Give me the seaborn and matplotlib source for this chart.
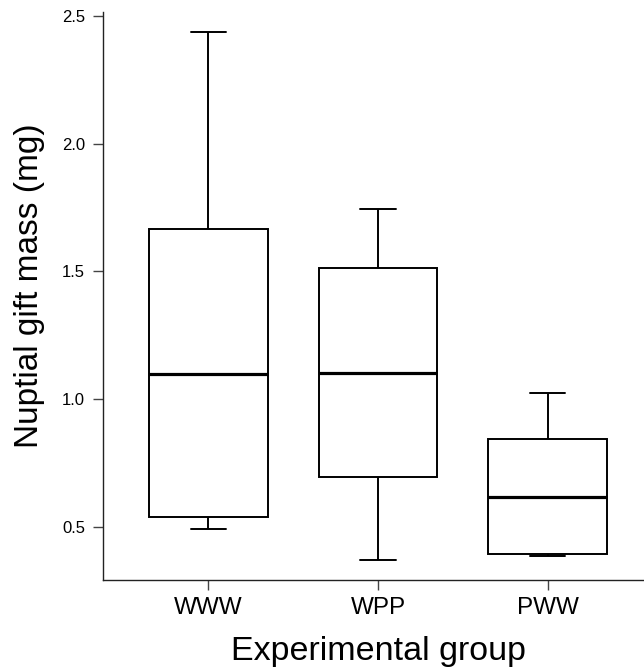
import pandas as pd
import seaborn as sns
import matplotlib.pyplot as plt

# Five-number summaries (min, Q1, median, Q3, max)
groups = ["WWW", "WPP", "PWW"]
www_mass = [0.491, 0.537, 1.099, 1.664, 2.436]
wpp_mass = [0.370, 0.695, 1.103, 1.513, 1.745]
pww_mass = [0.385, 0.392, 0.617, 0.845, 1.025]
y_ticks = [0.5, 1.0, 1.5, 2.0, 2.5]

data = pd.DataFrame({
    "group": ["WWW"] * len(www_mass) + ["WPP"] * len(wpp_mass) + ["PWW"] * len(pww_mass),
    "mass": www_mass + wpp_mass + pww_mass,
})

sns.set_style("ticks")
plt.rcParams["font.family"] = ["Liberation Sans", "DejaVu Sans"]
plt.rcParams["text.color"] = "black"
plt.rcParams["axes.labelcolor"] = "black"
plt.rcParams["xtick.labelcolor"] = "black"
plt.rcParams["ytick.labelcolor"] = "black"

fig = plt.figure(figsize=(6.44, 6.67), dpi=100)
ax = fig.add_axes([103 / 644, 87 / 667, 541 / 644, 568 / 667])

sns.boxplot(
    data=data, x="group", y="mass", order=groups, ax=ax,
    color="white", linecolor="black", linewidth=1.4, width=0.7,
    whis=3.0, capwidths=0.21,
    medianprops={"linewidth": 2.3, "color": "black"},
)

# Axes look like base R: bty="l", ticks outside
ax.set_xlim(-0.622, 2.569)
ax.set_ylim(0.291, 2.515)
ax.set_yticks(y_ticks)
ax.set_yticklabels([f"{t:.1f}" for t in y_ticks])
for side in ["top", "right"]:
    ax.spines[side].set_visible(False)
for side in ["left", "bottom"]:
    ax.spines[side].set_linewidth(1.0)
    ax.spines[side].set_color("#222222")

ax.tick_params(axis="y", length=7, width=1.0, color="#444444", labelsize=12, pad=6)
ax.tick_params(axis="x", length=7.5, width=1.0, color="#444444", labelsize=17.5, pad=5)

ax.set_xlabel("Experimental group", fontsize=24.5, labelpad=12)
ax.set_ylabel("Nuptial gift mass (mg)", fontsize=24, labelpad=12)
ax.xaxis.label.set_x(0.509)
ax.yaxis.label.set_y(0.519)

fig.savefig("out.png", dpi=100)
